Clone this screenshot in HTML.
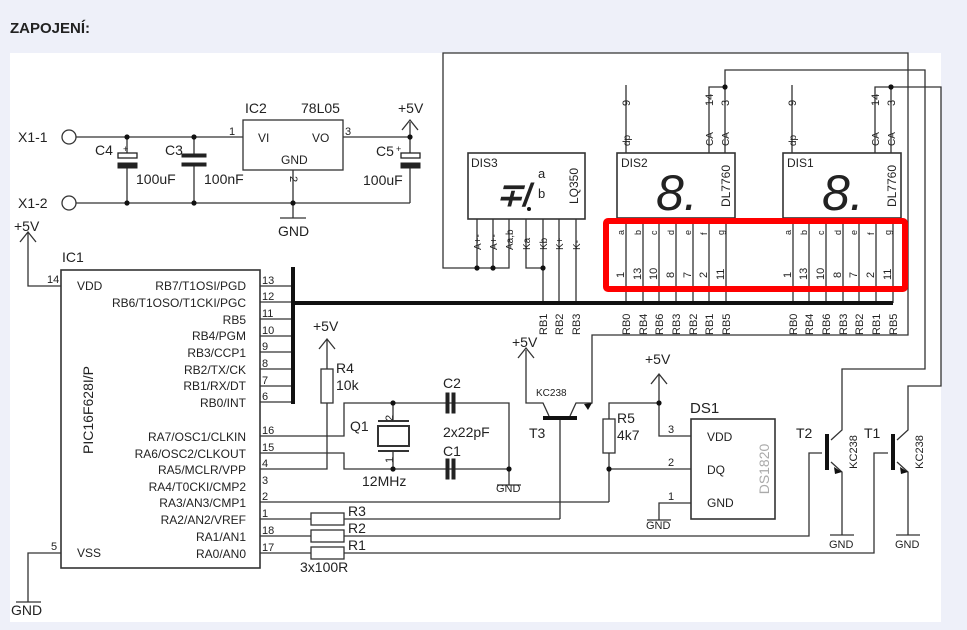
<!DOCTYPE html>
<html><head><meta charset="utf-8"><style>
html,body{margin:0;padding:0;background:#eef0f9;}
svg{display:block;}
text{font-family:"Liberation Sans",Arial,sans-serif;fill:#222;}
</style></head><body>
<svg width="967" height="630" viewBox="0 0 967 630" xmlns="http://www.w3.org/2000/svg">
<rect x="0" y="0" width="967" height="630" fill="#eef0f9"/>
<text x="10" y="33" font-size="15" font-weight="bold" fill="#111">ZAPOJENÍ:</text>
<rect x="10" y="53" width="931" height="569" fill="#fff"/>

<g stroke="#333" stroke-width="1.3" fill="none">
<circle cx="69" cy="137" r="7"/>
<circle cx="69" cy="203" r="7"/>
<line x1="76" y1="137" x2="243" y2="137"/>
<line x1="76" y1="203" x2="410" y2="203"/>
<line x1="127" y1="137" x2="127" y2="153"/><line x1="127" y1="167" x2="127" y2="203"/>
<line x1="194" y1="137" x2="194" y2="155"/><line x1="194" y1="166" x2="194" y2="203"/>
<rect x="243" y="120" width="100" height="50"/>
<line x1="293" y1="170" x2="293" y2="218"/>
<line x1="343" y1="137" x2="410" y2="137"/>
<line x1="410" y1="122" x2="410" y2="153"/><line x1="410" y1="167" x2="410" y2="203"/>
<polyline points="402,130 410,120 418,130"/>
<line x1="280" y1="218" x2="306" y2="218"/>
<rect x="61" y="270" width="199" height="298" stroke-width="1.6"/>
<polyline points="61,286 28,286 28,232"/>
<polyline points="20,242 28,232 36,242"/>
<polyline points="61,553 28,553 28,602"/>
<line x1="16" y1="602" x2="41" y2="602"/>
<line x1="260" y1="286" x2="293" y2="286"/>
<line x1="260" y1="302" x2="293" y2="302"/>
<line x1="260" y1="319" x2="293" y2="319"/>
<line x1="260" y1="336" x2="293" y2="336"/>
<line x1="260" y1="352" x2="293" y2="352"/>
<line x1="260" y1="369" x2="293" y2="369"/>
<line x1="260" y1="386" x2="293" y2="386"/>
<line x1="260" y1="402" x2="293" y2="402"/>
<polyline points="260,436 344,436 344,403 509,403 509,485"/>
<polyline points="260,453 344,453 344,469 509,469"/>
<polyline points="260,469 327,469 327,403"/>
<line x1="327" y1="369" x2="327" y2="340"/>
<polyline points="319,349 327,339 335,349"/>
<rect x="321" y="369" width="12" height="34"/>
<line x1="497" y1="485" x2="521" y2="485"/>
<line x1="393" y1="403" x2="393" y2="420"/><line x1="393" y1="452" x2="393" y2="469"/>
<rect x="378" y="426" width="31" height="20" stroke-width="2"/>
<line x1="378" y1="421" x2="409" y2="421" stroke-width="2"/>
<line x1="378" y1="451" x2="409" y2="451" stroke-width="2"/>
<line x1="260" y1="519" x2="560" y2="519"/>
<polyline points="260,536 809,536 809,453 822,453"/>
<polyline points="260,553 874,553 874,453 888,453"/>
<line x1="260" y1="502" x2="609" y2="502"/>
<rect x="311" y="513" width="33" height="12" fill="#fff"/>
<rect x="311" y="530" width="33" height="12" fill="#fff"/>
<rect x="311" y="547" width="33" height="12" fill="#fff"/>
<line x1="560" y1="519" x2="560" y2="418"/>
<polyline points="526,350 526,403 543,403 549,416"/>
<polyline points="518,358 526,348 534,358"/>
<polyline points="570,416 576,403 592,403 592,335 908,335 908,53 443,53 443,268 509,268 509,219"/>
<polyline points="609,502 609,453"/>
<rect x="603" y="419" width="12" height="34"/>
<polyline points="609,419 609,403 659,403 659,375"/>
<polyline points="651,384 659,374 667,384"/>
<polyline points="659,403 659,436 691,436"/>
<line x1="609" y1="469" x2="691" y2="469"/>
<polyline points="691,503 659,503 659,520"/>
<line x1="647" y1="520" x2="671" y2="520"/>
<rect x="691" y="419" width="84" height="100" stroke-width="1.6"/>
<polyline points="831,440 842,430 842,369 925,369 925,70 725,70 725,87"/>
<polyline points="831,462 842,472 842,535"/>
<line x1="830" y1="535" x2="854" y2="535"/>
<polyline points="897,440 908,430 908,386 941,386 941,87 891,87"/>
<polyline points="897,462 908,472 908,535"/>
<line x1="896" y1="535" x2="920" y2="535"/>
<rect x="468" y="153" width="117" height="66" stroke-width="1.6"/>
<line x1="477" y1="219" x2="477" y2="268"/>
<line x1="493" y1="219" x2="493" y2="268"/>
<polyline points="526,219 526,268 543,268"/>
<line x1="543" y1="219" x2="543" y2="303"/>
<line x1="559" y1="219" x2="559" y2="303"/>
<line x1="576" y1="219" x2="576" y2="303"/>
<rect x="617" y="153" width="118" height="65" stroke-width="1.6"/>
<line x1="626" y1="85" x2="626" y2="153"/>
<polyline points="709,153 709,87 725,87"/>
<line x1="725" y1="87" x2="725" y2="153"/>
<rect x="783" y="153" width="118" height="65" stroke-width="1.6"/>
<line x1="792" y1="85" x2="792" y2="153"/>
<polyline points="875,153 875,87 891,87"/>
<line x1="891" y1="87" x2="891" y2="153"/>
<path d="M626 218V303M643 218V303M659 218V303M676 218V303M693 218V303M709 218V303M726 218V303M793 218V303M809 218V303M826 218V303M843 218V303M859 218V303M876 218V303M893 218V303"/>
</g>
<g stroke="#111" stroke-width="4" fill="none">
<line x1="293" y1="267" x2="293" y2="404"/>
<line x1="293" y1="303" x2="893" y2="303"/>
</g>
<g stroke="#111" stroke-width="4">
<line x1="543" y1="418" x2="577" y2="418"/>
<line x1="827" y1="434" x2="827" y2="470"/>
<line x1="893" y1="434" x2="893" y2="470"/>
</g>
<g fill="#222" stroke="#222">
<rect x="118" y="153" width="19" height="5" fill="#fff" stroke-width="1.3"/>
<rect x="118" y="163" width="19" height="5"/>
<rect x="182" y="154" width="24" height="3"/>
<rect x="182" y="163" width="24" height="3"/>
<rect x="401" y="153" width="19" height="5" fill="#fff" stroke-width="1.3"/>
<rect x="401" y="163" width="19" height="5"/>
<rect x="446" y="393" width="3" height="20"/><rect x="452" y="393" width="3" height="20"/>
<rect x="446" y="459" width="3" height="20"/><rect x="452" y="459" width="3" height="20"/>
</g>
<g fill="#111">
<circle cx="127" cy="137" r="2.6"/><circle cx="194" cy="137" r="2.6"/>
<circle cx="127" cy="203" r="2.6"/><circle cx="194" cy="203" r="2.6"/>
<circle cx="293" cy="203" r="2.6"/><circle cx="410" cy="137" r="2.6"/>
<circle cx="393" cy="403" r="2.6"/><circle cx="393" cy="469" r="2.6"/>
<circle cx="509" cy="469" r="2.6"/><circle cx="659" cy="403" r="2.6"/>
<circle cx="609" cy="469" r="2.6"/>
<circle cx="477" cy="268" r="2.6"/><circle cx="493" cy="268" r="2.6"/><circle cx="543" cy="268" r="2.6"/>
<circle cx="725" cy="87" r="2.6"/><circle cx="891" cy="87" r="2.6"/>
<polygon points="592,403 584,404 588,410"/>
<polygon points="842,472 834,467 835,474"/>
<polygon points="908,472 900,467 901,474"/>
</g>
<rect x="606" y="221" width="299" height="68" fill="none" stroke="#f00" stroke-width="6" rx="2"/>

<g font-size="14">
<text x="18" y="142">X1-1</text><text x="18" y="208">X1-2</text>
<text x="95" y="155">C4</text><text x="165" y="155">C3</text><text x="376" y="156">C5</text>
<text x="136" y="184">100uF</text><text x="204" y="184">100nF</text><text x="363" y="185">100uF</text>
<text x="245" y="113">IC2</text><text x="301" y="113">78L05</text>
<text x="398" y="113">+5V</text>
<text x="278" y="236">GND</text>
<text x="14" y="231">+5V</text>
<text x="62" y="262">IC1</text>
<text x="11" y="615">GND</text>
<text x="313" y="331">+5V</text>
<text x="336" y="373">R4</text><text x="336" y="390">10k</text>
<text x="350" y="431">Q1</text>
<text x="443" y="388">C2</text><text x="443" y="437">2x22pF</text><text x="443" y="456">C1</text>
<text x="362" y="486">12MHz</text>
<text x="348" y="516">R3</text><text x="348" y="533">R2</text><text x="348" y="550">R1</text>
<text x="300" y="572">3x100R</text>
<text x="512" y="347">+5V</text>
<text x="529" y="438">T3</text>
<text x="617" y="423">R5</text><text x="617" y="440">4k7</text>
<text x="645" y="364">+5V</text>
<text x="690" y="413" font-size="15">DS1</text>
<text x="796" y="438">T2</text><text x="864" y="438">T1</text>
</g>
<g font-size="11">
<text x="229" y="135">1</text><text x="345" y="135">3</text><text x="288" y="182" transform="rotate(90 292 180)">2</text>
<text x="123" y="152" font-size="9">+</text><text x="396" y="152" font-size="9">+</text>
<text x="47" y="283">14</text><text x="51" y="550">5</text>
<text x="262" y="284">13</text><text x="262" y="300">12</text><text x="262" y="317">11</text><text x="262" y="334">10</text>
<text x="262" y="350">9</text><text x="262" y="367">8</text><text x="262" y="384">7</text><text x="262" y="400">6</text>
<text x="262" y="434">16</text><text x="262" y="451">15</text><text x="262" y="467">4</text><text x="262" y="484">3</text>
<text x="262" y="500">2</text><text x="262" y="517">1</text><text x="262" y="534">18</text><text x="262" y="551">17</text>
<text x="384" y="420" transform="rotate(-90 389 416)">2</text>
<text x="384" y="462" transform="rotate(-90 389 458)">1</text>
<text x="668" y="433">3</text><text x="668" y="466">2</text><text x="668" y="500">1</text>
<text x="536" y="396" font-size="10">KC238</text>
</g>
<g font-size="12">
<text x="77" y="290">VDD</text><text x="77" y="557">VSS</text>
<g text-anchor="end">
<text x="246" y="290">RB7/T1OSI/PGD</text>
<text x="246" y="307">RB6/T1OSO/T1CKI/PGC</text>
<text x="246" y="324">RB5</text>
<text x="246" y="340">RB4/PGM</text>
<text x="246" y="357">RB3/CCP1</text>
<text x="246" y="374">RB2/TX/CK</text>
<text x="246" y="390">RB1/RX/DT</text>
<text x="246" y="407">RB0/INT</text>
<text x="246" y="441">RA7/OSC1/CLKIN</text>
<text x="246" y="458">RA6/OSC2/CLKOUT</text>
<text x="246" y="474">RA5/MCLR/VPP</text>
<text x="246" y="491">RA4/T0CKI/CMP2</text>
<text x="246" y="507">RA3/AN3/CMP1</text>
<text x="246" y="524">RA2/AN2/VREF</text>
<text x="246" y="541">RA1/AN1</text>
<text x="246" y="558">RA0/AN0</text>
</g>
<text x="93" y="410" transform="rotate(-90 93 410)" text-anchor="middle" font-size="14">PIC16F628I/P</text>
<text x="258" y="142">VI</text><text x="312" y="142">VO</text><text x="281" y="164">GND</text>
<text x="707" y="441">VDD</text><text x="707" y="474">DQ</text><text x="707" y="507">GND</text>
<text x="769" y="469" transform="rotate(-90 769 469)" text-anchor="middle" style="fill:#aaa" font-size="14">DS1820</text>
<text x="857" y="452" transform="rotate(-90 857 452)" text-anchor="middle" font-size="11">KC238</text>
<text x="923" y="452" transform="rotate(-90 923 452)" text-anchor="middle" font-size="11">KC238</text>
<text x="496" y="492" font-size="11">GND</text><text x="646" y="529" font-size="11">GND</text>
<text x="829" y="548" font-size="11">GND</text><text x="895" y="548" font-size="11">GND</text>
<text x="471" y="167">DIS3</text><text x="621" y="167">DIS2</text><text x="787" y="167">DIS1</text>
<text x="578" y="186" transform="rotate(-90 578 186)" text-anchor="middle">LQ350</text>
<text x="730" y="186" transform="rotate(-90 730 186)" text-anchor="middle">DL7760</text>
<text x="896" y="186" transform="rotate(-90 896 186)" text-anchor="middle">DL7760</text>
<text x="538" y="178" font-size="13">a</text><text x="538" y="198" font-size="13">b</text>
</g>
<g font-size="50" font-style="italic" fill="#111">
<text x="656" y="210">8.</text><text x="822" y="210">8.</text>
</g>
<text x="496" y="206" font-size="32" font-style="italic" font-weight="bold" fill="#111">∓/</text>
<circle cx="529" cy="209" r="2" fill="#111"/>
<g font-size="10">
<text transform="translate(481,250) rotate(-90)">A+-</text>
<text transform="translate(497,250) rotate(-90)">A+-</text>
<text transform="translate(513,250) rotate(-90)">Aa,b</text>
<text transform="translate(530,250) rotate(-90)">Ka</text>
<text transform="translate(547,250) rotate(-90)">Kb</text>
<text transform="translate(563,250) rotate(-90)">K+</text>
<text transform="translate(580,250) rotate(-90)">K-</text>
<text transform="translate(547,335) rotate(-90)" font-size="11">RB1</text>
<text transform="translate(563,335) rotate(-90)" font-size="11">RB2</text>
<text transform="translate(580,335) rotate(-90)" font-size="11">RB3</text>
<text transform="translate(630,106) rotate(-90)" font-size="11">9</text>
<text transform="translate(630,146) rotate(-90)">dp</text>
<text transform="translate(713,106) rotate(-90)" font-size="11">14</text>
<text transform="translate(729,106) rotate(-90)" font-size="11">3</text>
<text transform="translate(713,146) rotate(-90)">CA</text>
<text transform="translate(729,146) rotate(-90)">CA</text>
<text transform="translate(796,106) rotate(-90)" font-size="11">9</text>
<text transform="translate(796,146) rotate(-90)">dp</text>
<text transform="translate(879,106) rotate(-90)" font-size="11">14</text>
<text transform="translate(895,106) rotate(-90)" font-size="11">3</text>
<text transform="translate(879,146) rotate(-90)">CA</text>
<text transform="translate(895,146) rotate(-90)">CA</text>
</g>
<g font-size="9">
<text transform="translate(624,235) rotate(-90)">a</text><text transform="translate(641,235) rotate(-90)">b</text>
<text transform="translate(657,235) rotate(-90)">c</text><text transform="translate(674,235) rotate(-90)">d</text>
<text transform="translate(691,235) rotate(-90)">e</text><text transform="translate(707,235) rotate(-90)">f</text>
<text transform="translate(724,235) rotate(-90)">g</text>
<text transform="translate(791,235) rotate(-90)">a</text><text transform="translate(807,235) rotate(-90)">b</text>
<text transform="translate(824,235) rotate(-90)">c</text><text transform="translate(841,235) rotate(-90)">d</text>
<text transform="translate(857,235) rotate(-90)">e</text><text transform="translate(874,235) rotate(-90)">f</text>
<text transform="translate(891,235) rotate(-90)">g</text>
</g>
<g font-size="11">
<text transform="translate(624,278) rotate(-90)">1</text><text transform="translate(641,280) rotate(-90)">13</text>
<text transform="translate(657,280) rotate(-90)">10</text><text transform="translate(674,278) rotate(-90)">8</text>
<text transform="translate(691,278) rotate(-90)">7</text><text transform="translate(707,278) rotate(-90)">2</text>
<text transform="translate(724,280) rotate(-90)">11</text>
<text transform="translate(791,278) rotate(-90)">1</text><text transform="translate(807,280) rotate(-90)">13</text>
<text transform="translate(824,280) rotate(-90)">10</text><text transform="translate(841,278) rotate(-90)">8</text>
<text transform="translate(857,278) rotate(-90)">7</text><text transform="translate(874,278) rotate(-90)">2</text>
<text transform="translate(891,280) rotate(-90)">11</text>
<text transform="translate(630,335) rotate(-90)">RB0</text><text transform="translate(647,335) rotate(-90)">RB4</text>
<text transform="translate(663,335) rotate(-90)">RB6</text><text transform="translate(680,335) rotate(-90)">RB3</text>
<text transform="translate(697,335) rotate(-90)">RB2</text><text transform="translate(713,335) rotate(-90)">RB1</text>
<text transform="translate(730,335) rotate(-90)">RB5</text>
<text transform="translate(797,335) rotate(-90)">RB0</text><text transform="translate(813,335) rotate(-90)">RB4</text>
<text transform="translate(830,335) rotate(-90)">RB6</text><text transform="translate(847,335) rotate(-90)">RB3</text>
<text transform="translate(863,335) rotate(-90)">RB2</text><text transform="translate(880,335) rotate(-90)">RB1</text>
<text transform="translate(897,335) rotate(-90)">RB5</text>
</g>
</svg>
</body></html>
